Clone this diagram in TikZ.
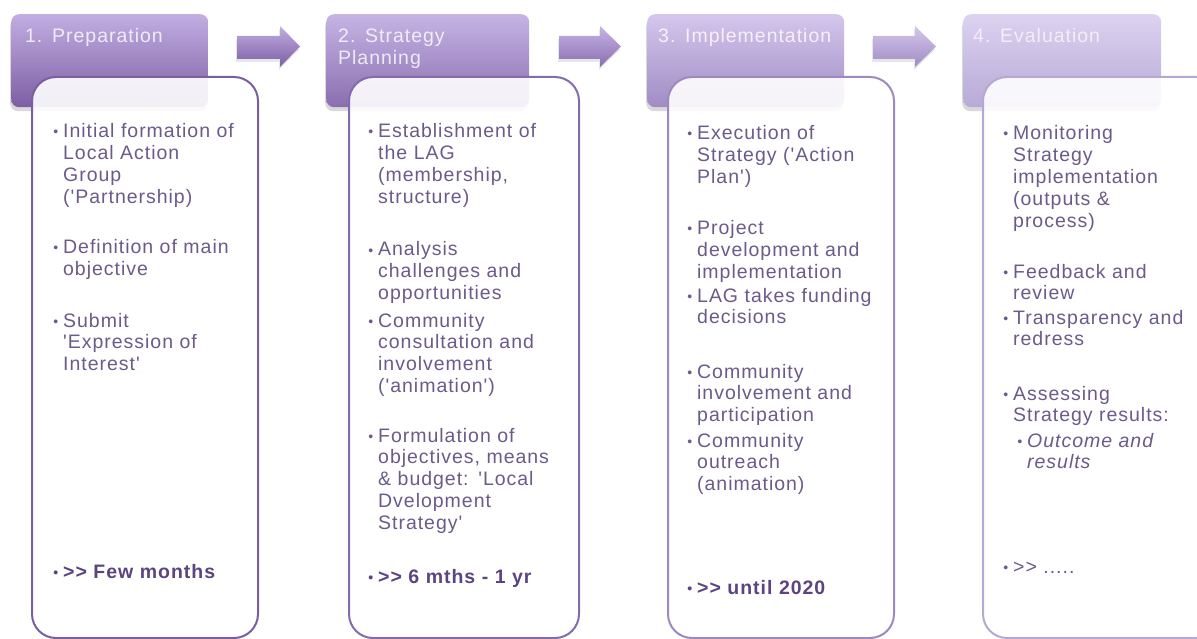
\documentclass[tikz,border=0pt]{standalone}
\usepackage{fontspec}
\newfontfamily\lagfont{Liberation Sans}[LetterSpace=5]
\usetikzlibrary{shadows}
\definecolor{lagtext}{RGB}{108,90,138}
\definecolor{lagbold}{RGB}{92,68,128}
\definecolor{hdtopA}{RGB}{194,174,226}\definecolor{hdbotA}{RGB}{124,94,164}
\definecolor{hdtopB}{RGB}{198,180,228}\definecolor{hdbotB}{RGB}{138,110,176}
\definecolor{hdtopC}{RGB}{212,198,236}\definecolor{hdbotC}{RGB}{160,140,196}
\definecolor{hdtopD}{RGB}{220,210,240}\definecolor{hdbotD}{RGB}{184,170,214}
\definecolor{rimA}{RGB}{122,95,160}
\definecolor{rimB}{RGB}{132,108,172}
\definecolor{rimC}{RGB}{156,137,192}
\definecolor{rimD}{RGB}{182,168,212}
\providecommand{\textfontsize}{\fontsize{19.5pt}{21.8pt}\selectfont}
\providecommand{\blt}{\llap{{\fontsize{14pt}{14pt}\selectfont\raisebox{1pt}{•}}\hspace{5pt}}}

\begin{document}
\begin{tikzpicture}[x=1pt,y=-1pt,
    header/.style={anchor=north west,minimum width=197pt,minimum height=93pt,
        rounded corners=8pt,inner sep=0pt,
        drop shadow={shadow xshift=-1pt,shadow yshift=-4pt,opacity=.3}},
    title/.style={anchor=base west,text width=190pt,align=left,inner sep=0pt,
        text=white,text opacity=.8,font=\lagfont\textfontsize},
    bodybox/.style={line width=2pt,rounded corners=24pt,fill=white,fill opacity=.9},
    entry/.style={anchor=base west,text width=230pt,align=left,inner sep=0pt,
        text=lagtext,font=\lagfont\textfontsize},
    duration/.style={entry,text=lagbold,font=\lagfont\bfseries\textfontsize},
    stepshaft/.style={drop shadow={shadow xshift=-1pt,shadow yshift=-3pt,opacity=.2}}]
    \clip (0,0) rectangle (1197,639);

    % headers
    \node[header,top color=hdtopA,bottom color=hdbotA] (prep) at (11,14) {};
    \node[header,top color=hdtopB,bottom color=hdbotB,minimum width=203pt] (plan) at (326,14) {};
    \node[header,top color=hdtopC,bottom color=hdbotC] (impl) at (647,14) {};
    \node[header,top color=hdtopD,bottom color=hdbotD,minimum width=198pt] (eval) at (963,14) {};
    \node[title] (preptitle) at (25,43) {1. Preparation};
    \node[title] (plantitle) at (338,43) {2. Strategy\\Planning};
    \node[title] (impltitle) at (658,43) {3. Implementation};
    \node[title,text opacity=.7] (evaltitle) at (973,43) {4. Evaluation};

    % block arrows between the headers
    \shade[stepshaft,top color=hdtopA,bottom color=hdbotA]
        (237,36) -- (280,36) -- (280,26) -- (300,46.5) -- (280,67) -- (280,59) -- (237,59) -- cycle;
    \shade[stepshaft,top color=hdtopB,bottom color=hdbotB]
        (559,36) -- (600,36) -- (600,26) -- (621,46.5) -- (600,67) -- (600,59) -- (559,59) -- cycle;
    \shade[stepshaft,top color=hdtopC,bottom color=hdbotC]
        (873,36) -- (915,36) -- (915,26) -- (936,46.5) -- (915,67) -- (915,59) -- (873,59) -- cycle;

    % bodies
    \draw[bodybox,draw=rimA] (32,77) rectangle (258,638);
    \draw[bodybox,draw=rimB] (349,77) rectangle (579,638);
    \draw[bodybox,draw=rimC] (668,77) rectangle (894,638);
    \draw[bodybox,draw=rimD] (983,77) rectangle (1220,638);

    % 1. Preparation
    \node[entry] (prepa) at (63,138) {\blt Initial formation of\\Local Action\\Group\\('Partnership)};
    \node[entry] (prepb) at (63,254) {\blt Definition of main\\objective};
    \node[entry] (prepc) at (63,327) {\blt Submit\\'Expression of\\Interest'};
    \node[duration] (prepd) at (63,578) {\blt >> Few months};

    % 2. Strategy Planning
    \node[entry] (plana) at (378,138) {\blt Establishment of\\the LAG\\(membership,\\structure)};
    \node[entry] (planb) at (378,256) {\blt Analysis\\challenges and\\opportunities};
    \node[entry] (planc) at (378,327) {\blt Community\\consultation and\\involvement\\('animation')};
    \node[entry] (pland) at (378,442) {\blt Formulation of\\objectives, means\\\& budget: 'Local\\Dvelopment\\Strategy'};
    \node[duration] (plane) at (378,583) {\blt >> 6 mths - 1 yr};

    % 3. Implementation
    \node[entry] (impla) at (697,140) {\blt Execution of\\Strategy ('Action\\Plan')};
    \node[entry] (implb) at (697,235) {\blt Project\\development and\\implementation};
    \node[entry] (implc) at (697,302) {\blt LAG takes funding\\decisions};
    \node[entry] (impld) at (697,378) {\blt Community\\involvement and\\participation};
    \node[entry] (imple) at (697,447) {\blt Community\\outreach\\(animation)};
    \node[duration] (implf) at (697,594) {\blt >> until 2020};

    % 4. Evaluation
    \node[entry] (evala) at (1013,140) {\blt Monitoring\\Strategy\\implementation\\(outputs \&\\process)};
    \node[entry] (evalb) at (1013,278) {\blt Feedback and\\review};
    \node[entry] (evalc) at (1013,324) {\blt Transparency and\\redress};
    \node[entry] (evald) at (1013,400) {\blt Assessing\\Strategy results:};
    \node[entry,font=\lagfont\itshape\textfontsize] (evale) at (1027,447) {\blt Outcome and\\results};
    \node[entry] (evalf) at (1013,573) {\blt >> .....};
\end{tikzpicture}
\end{document}
